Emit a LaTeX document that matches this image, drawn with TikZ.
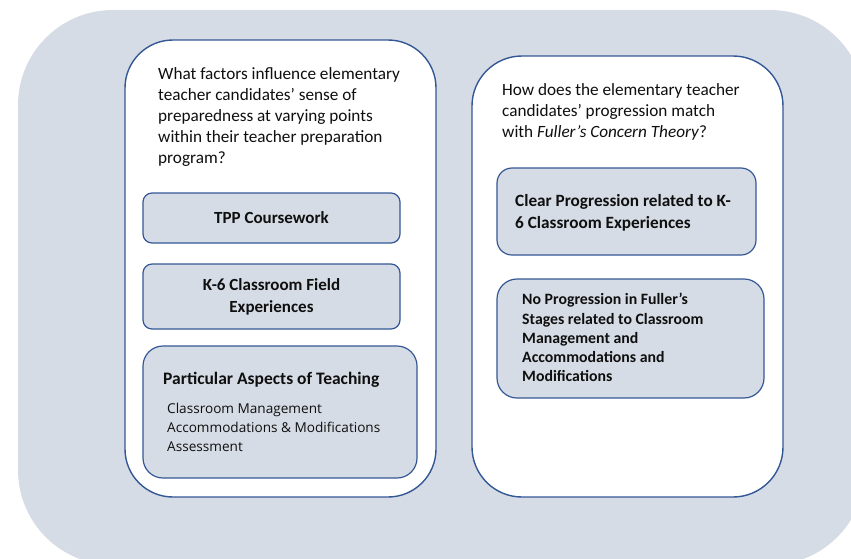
\documentclass[tikz,border=0pt]{standalone}
\usepackage{fontspec}
\setmainfont{Carlito}
\newfontfamily\listfont{Open Sans}
\usepackage{tikz}
\usetikzlibrary{positioning}
\definecolor{panelfill}{RGB}{214,220,229}
\definecolor{panelline}{RGB}{52,88,150}
\definecolor{inktext}{RGB}{15,15,15}

\begin{document}
\begin{tikzpicture}[
    x=1pt, y=-1pt,
    column/.style={draw=panelline, line width=1.4pt, fill=white, rounded corners=48pt, inner sep=0pt},
    theme/.style={draw=panelline, line width=1.2pt, fill=panelfill, rounded corners=9pt, inner sep=0pt},
    question/.style={anchor=north west, inner sep=0pt, align=left, font=\fontsize{17.2}{21.2}\selectfont, text=inktext},
    label/.style={inner sep=0pt, align=center, font=\fontsize{17}{22}\selectfont\bfseries, text=inktext}
]
    % Backdrop
    \useasboundingbox (0,0) rectangle (851,558);
    \begin{scope}
        \clip (0,0) rectangle (851,558);
        \fill[panelfill, rounded corners=95pt] (18,10) rectangle (865,565);
    \end{scope}

    % Columns
    \node[column, minimum width=311pt, minimum height=457pt] (leftcol) at (280.5,268.5) {};
    \node[column, minimum width=311pt, minimum height=441pt, rounded corners=50pt] (rightcol) at (627.5,276.5) {};

    % Research questions
    \node[question] (leftq) at (158,67) {What factors influence elementary\\teacher candidates’ sense of\\preparedness at varying points\\within their teacher preparation\\program?};
    \node[question] (rightq) at (502,83) {How does the elementary teacher\\candidates’ progression match\\with \textit{Fuller’s Concern Theory}?};

    % Left themes
    \node[theme, minimum width=257pt, minimum height=50pt] (tpp) at (271.5,218) {};
    \node[label] at (tpp) {TPP Coursework};
    \node[theme, minimum width=257pt, minimum height=65pt] (field) at (271.5,296.5) {};
    \node[label] at (field) {K-6 Classroom Field\\Experiences};
    \node[theme, minimum width=274pt, minimum height=132pt, rounded corners=20pt] (aspects) at (280,412) {};
    \node[label, anchor=base west, font=\fontsize{17.5}{22}\selectfont\bfseries] (aspectstitle) at (163,384) {Particular Aspects of Teaching};
    \node[anchor=north west, inner sep=0pt, align=left, text=inktext, font=\listfont\fontsize{13.6}{18.8}\selectfont] (aspectslist) at (167,403) {Classroom Management\\Accommodations \& Modifications\\Assessment};

    % Right themes
    \node[theme, minimum width=259pt, minimum height=87pt, rounded corners=15pt] (clear) at (626.5,211.5) {};
    \node[label, anchor=north west, align=left, font=\fontsize{17.2}{22}\selectfont\bfseries] (cleartext) at (515,194) {Clear Progression related to K-\\6 Classroom Experiences};
    \node[theme, minimum width=267pt, minimum height=119pt, rounded corners=20pt] (noprog) at (630.5,338.5) {};
    \node[label, anchor=north west, align=left, font=\fontsize{15.8}{19.3}\selectfont\bfseries] (noprogtext) at (522,293) {No Progression in Fuller’s\\Stages related to Classroom\\Management and\\Accommodations and\\Modifications};
\end{tikzpicture}
\end{document}
